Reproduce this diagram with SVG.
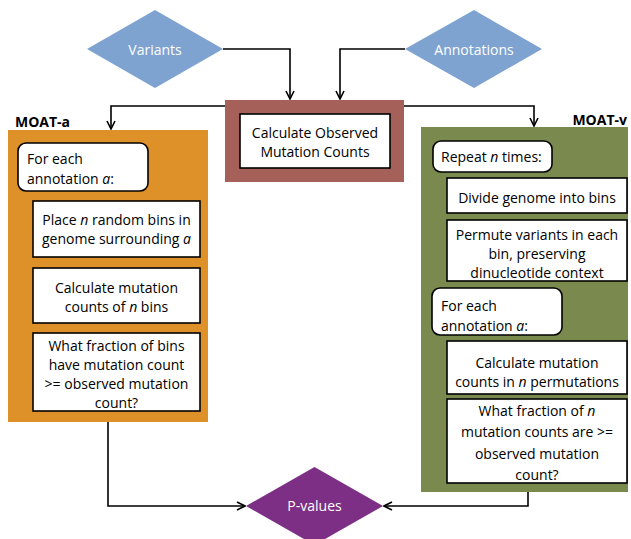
<svg xmlns="http://www.w3.org/2000/svg" width="631" height="539" viewBox="0 0 631 539">
<defs>
<marker id="arr" viewBox="0 0 10 10" refX="9" refY="5" markerWidth="10" markerHeight="10" markerUnits="userSpaceOnUse" orient="auto">
<path d="M1,1 L9,5 L1,9" fill="none" stroke="#000" stroke-width="1.6"/>
</marker>
<style>
text{font-family:"Open Sans","Liberation Sans",Arial,sans-serif;font-size:14px;fill:#000}
.c{text-anchor:middle}
.w{fill:#fff}
.b{font-weight:bold;font-size:14px}
.box{fill:#fff;stroke:#000;stroke-width:1.6}
.conn{fill:none;stroke:#000;stroke-width:1.6;marker-end:url(#arr)}
</style>
</defs>
<rect width="631" height="539" fill="#fff"/>
<g id="connectors">
<path class="conn" d="M223,49 H290 V99"/>
<path class="conn" d="M405,49 H340 V99"/>
<path class="conn" d="M226,106 H111 V129"/>
<path class="conn" d="M404,106 H534 V126"/>
<path class="conn" d="M108,422 V506 H245"/>
<path class="conn" d="M528,492 V506 H384"/>
</g>
<g id="variants">
<polygon points="155,10 223,49 155,88 87,49" fill="#7EA3D0"/>
<text class="c w" x="155" y="55">Variants</text>
</g>
<g id="annotations">
<polygon points="474,10 542,49 474,88 405,49" fill="#7EA3D0"/>
<text class="c w" x="474" y="55">Annotations</text>
</g>
<g id="observed">
<rect x="225" y="100" width="179" height="82" fill="#A6605A"/>
<rect class="box" x="240" y="114" width="150" height="54"/>
<text class="c" x="315" y="138">Calculate Observed</text>
<text class="c" x="315" y="157">Mutation Counts</text>
</g>
<g id="moat-a">
<text class="b" x="15" y="127">MOAT-a</text>
<rect x="8" y="130" width="200" height="292" fill="#DE9029"/>
<g id="a-foreach">
<rect class="box" x="18" y="143" width="130" height="48" rx="8"/>
<text x="27" y="164">For each</text>
<text x="27" y="184">annotation <tspan font-style="italic">a</tspan>:</text>
</g>
<g id="a-place">
<rect class="box" x="33" y="201" width="167" height="56"/>
<text class="c" x="116.5" y="225">Place <tspan font-style="italic">n</tspan> random bins in</text>
<text class="c" x="116.5" y="244">genome surrounding <tspan font-style="italic">a</tspan></text>
</g>
<g id="a-calc">
<rect class="box" x="33" y="268" width="167" height="55"/>
<text class="c" x="116.5" y="293">Calculate mutation</text>
<text class="c" x="116.5" y="312">counts of <tspan font-style="italic">n</tspan> bins</text>
</g>
<g id="a-fraction">
<rect class="box" x="33" y="333" width="167" height="78"/>
<text class="c" x="116.5" y="351">What fraction of bins</text>
<text class="c" x="116.5" y="370">have mutation count</text>
<text class="c" x="116.5" y="389">&gt;= observed mutation</text>
<text class="c" x="116.5" y="408">count?</text>
</g>
</g>
<g id="moat-v">
<text class="b" x="627" y="125" text-anchor="end">MOAT-v</text>
<rect x="421" y="127" width="207" height="365" fill="#7A8A4E"/>
<g id="v-repeat">
<rect class="box" x="433" y="141" width="119" height="31" rx="8"/>
<text x="441" y="162">Repeat <tspan font-style="italic">n</tspan> times:</text>
</g>
<g id="v-divide">
<rect class="box" x="447" y="178" width="180" height="35"/>
<text class="c" x="537" y="203">Divide genome into bins</text>
</g>
<g id="v-permute">
<rect class="box" x="447" y="220" width="180" height="61"/>
<text class="c" x="537" y="240">Permute variants in each</text>
<text class="c" x="537" y="259">bin, preserving</text>
<text class="c" x="537" y="278">dinucleotide context</text>
</g>
<g id="v-foreach">
<rect class="box" x="432" y="288" width="130" height="47" rx="8"/>
<text x="441" y="311">For each</text>
<text x="441" y="331">annotation <tspan font-style="italic">a</tspan>:</text>
</g>
<g id="v-calc">
<rect class="box" x="447" y="341" width="180" height="53"/>
<text class="c" x="537" y="368">Calculate mutation</text>
<text class="c" x="537" y="387">counts in <tspan font-style="italic">n</tspan> permutations</text>
</g>
<g id="v-fraction">
<rect class="box" x="447" y="399" width="180" height="84"/>
<text class="c" x="537" y="416">What fraction of <tspan font-style="italic">n</tspan></text>
<text class="c" x="537" y="437">mutation counts are &gt;=</text>
<text class="c" x="537" y="459">observed mutation</text>
<text class="c" x="537" y="480">count?</text>
</g>
</g>
<g id="pvalues">
<polygon points="314.5,467 383,506 314.5,545 246,506" fill="#7C2F85"/>
<text class="c w" x="314.5" y="511">P-values</text>
</g>
</svg>
